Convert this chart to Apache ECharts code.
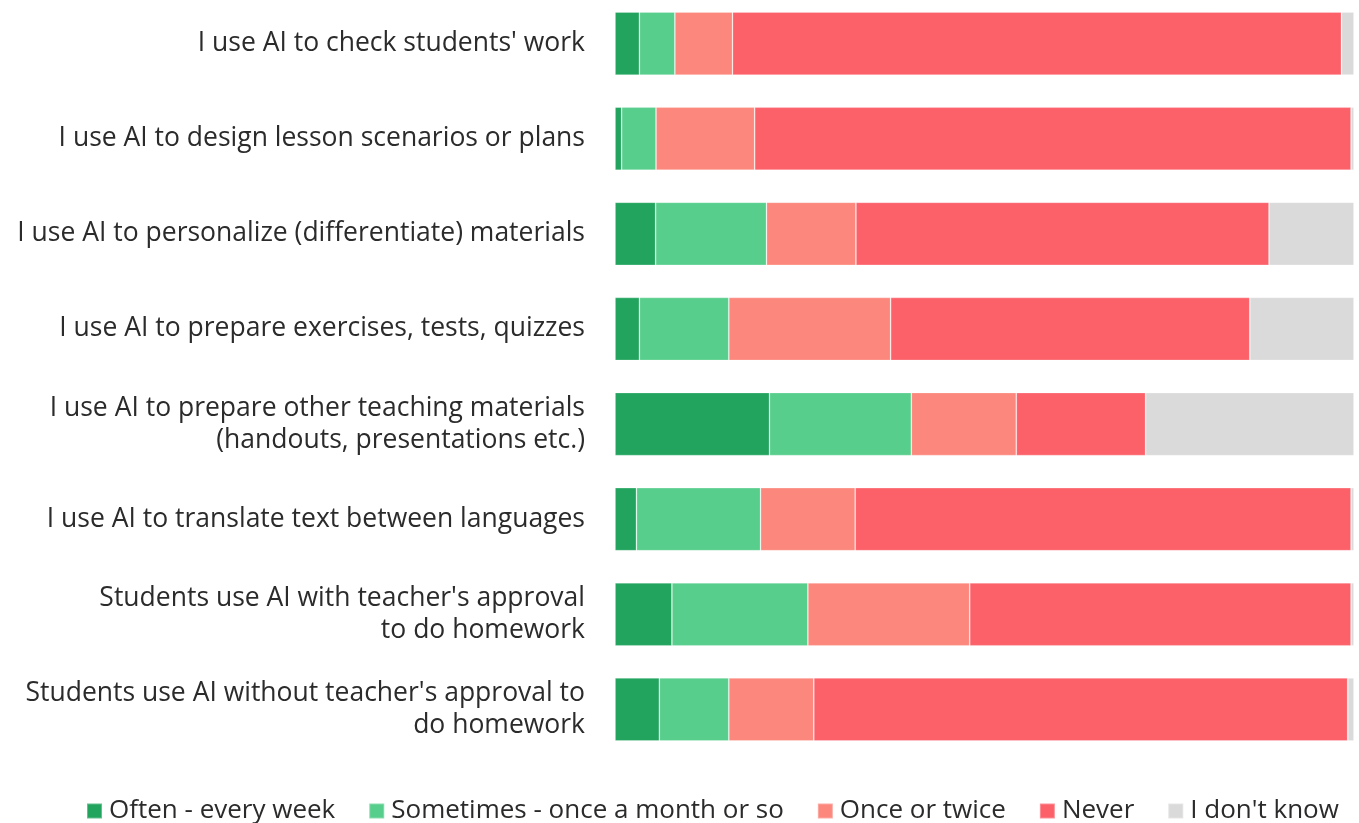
<!DOCTYPE html>
<html>
<head>
<meta charset="utf-8">
<script src="https://cdn.jsdelivr.net/npm/echarts@6/dist/echarts.min.js"></script>
<style>
  html, body { margin: 0; padding: 0; background: #ffffff; overflow: hidden; }
  #chart { width: 1359px; height: 827px; margin-top: -4px; }
</style>
</head>
<body>
<div id="chart"></div>
<script>
// Survey statements (top to bottom)
const categories = [
  "I use AI to check students' work",
  "I use AI to design lesson scenarios or plans",
  "I use AI to personalize (differentiate) materials",
  "I use AI to prepare exercises, tests, quizzes",
  "I use AI to prepare other teaching materials\n(handouts, presentations etc.)",
  "I use AI to translate text between languages",
  "Students use AI with teacher's approval\nto do homework",
  "Students use AI without teacher's approval to\ndo homework"
];

// Answer shares in percent, one array per answer
const often     = [3.3, 0.9, 5.5, 3.3, 20.9, 2.9, 7.7, 6.0];
const sometimes = [4.8, 4.65, 15.0, 12.1, 19.2, 16.8, 18.4, 9.4];
const onceTwice = [7.8, 13.35, 12.1, 21.9, 14.2, 12.8, 21.9, 11.5];
const never     = [82.4, 80.7, 55.9, 48.6, 17.5, 67.1, 51.6, 72.25];
const dontKnow  = [1.7, 0.4, 11.5, 14.1, 28.2, 0.4, 0.4, 0.85];

const seriesNames = [
  "Often - every week",
  "Sometimes - once a month or so",
  "Once or twice",
  "Never",
  "I don't know"
];
const seriesData = [often, sometimes, onceTwice, never, dontKnow];
const colors = ["#22a45e", "#57ce8c", "#fc877c", "#fc616a", "#dadada"];

const fontFamily = "'Open Sans', 'Noto Sans', sans-serif";

const chart = echarts.init(document.getElementById('chart'), null, { renderer: 'canvas' });

chart.setOption({
  animation: false,
  color: colors,
  grid: { left: 615, right: 5, top: 0, bottom: 66, containLabel: false },
  legend: {
    left: 81,
    top: 797,
    itemWidth: 15,
    itemHeight: 15,
    itemGap: 33,
    icon: 'rect',
    textStyle: { fontFamily: fontFamily, fontSize: 26, color: '#2b2b2b', padding: [0, 0, 0, 2] },
    data: seriesNames
  },
  xAxis: {
    type: 'value',
    min: 0,
    max: 100,
    show: false
  },
  yAxis: {
    type: 'category',
    inverse: true,
    data: categories,
    axisLine: { show: false },
    axisTick: { show: false },
    axisLabel: {
      margin: 30,
      fontFamily: fontFamily,
      fontSize: 26.5,
      lineHeight: 32,
      color: '#2b2b2b',
      align: 'right'
    }
  },
  series: seriesNames.map((name, i) => ({
    name: name,
    type: 'bar',
    stack: 'total',
    barWidth: 63,
    data: seriesData[i],
    itemStyle: {
      color: colors[i],
      borderColor: 'rgba(255,255,255,0.3)',
      borderWidth: 0.8
    }
  }))
});
</script>
</body>
</html>
